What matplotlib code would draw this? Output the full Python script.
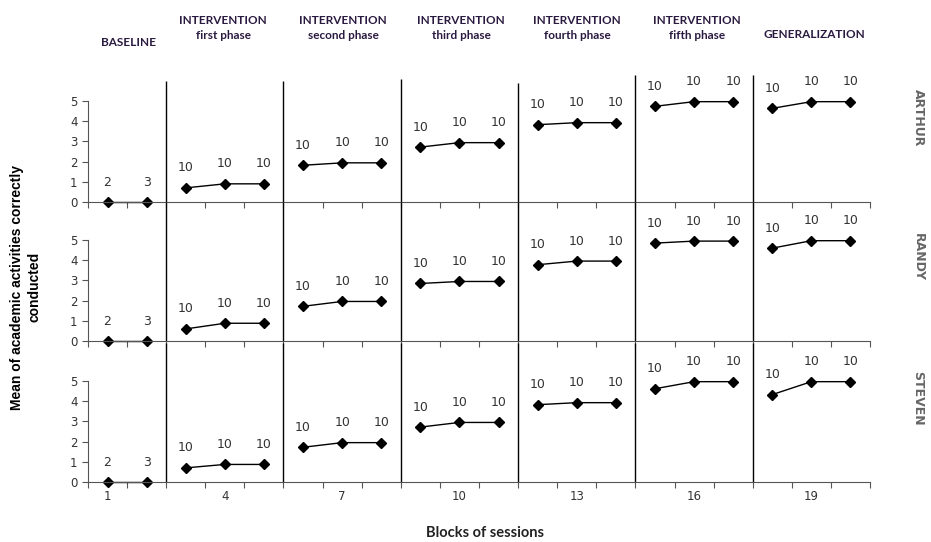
import matplotlib.pyplot as plt

# datos (bloques de sesiones 1..20)
alumnos = ['ARTHUR', 'RANDY', 'STEVEN']
fases = ['BASELINE', 'INTERVENTION\nfirst phase', 'INTERVENTION\nsecond phase',
         'INTERVENTION\nthird phase', 'INTERVENTION\nfourth phase',
         'INTERVENTION\nfifth phase', 'GENERALIZATION']
bloques_fase = [[1, 2], [3, 4, 5], [6, 7, 8], [9, 10, 11],
                [12, 13, 14], [15, 16, 17], [18, 19, 20]]
etiquetas_fase = [['2', '3']] + [['10', '10', '10']] * 6

medias = {
    'ARTHUR': [[0, 0], [0.7, 0.9, 0.9], [1.82, 1.94, 1.94], [2.72, 2.94, 2.94],
               [3.83, 3.93, 3.93], [4.74, 4.97, 4.97], [4.64, 4.97, 4.97]],
    'RANDY': [[0, 0], [0.6, 0.88, 0.88], [1.72, 1.96, 1.96], [2.85, 2.95, 2.95],
              [3.78, 3.96, 3.96], [4.85, 4.95, 4.95], [4.6, 4.97, 4.97]],
    'STEVEN': [[0, 0], [0.7, 0.87, 0.87], [1.72, 1.95, 1.95], [2.72, 2.95, 2.95],
               [3.83, 3.93, 3.93], [4.62, 4.97, 4.97], [4.33, 4.97, 4.97]],
}
cortes = [2.5, 5.5, 8.5, 11.5, 14.5, 17.5]
ticks_x = [1, 4, 7, 10, 13, 16, 19]

fig = plt.figure(figsize=(9.31, 5.42), dpi=100)
gris = '#333333'
alto = 0.257
bases = [0.6273, 0.3708, 0.1107]
topes_fila1 = [6.0, 6.0, 6.1, 5.9, 6.3, 6.3]

for i, nombre in enumerate(alumnos):
    ax = fig.add_axes([0.0945, bases[i], 0.84, alto])
    ax.set_xlim(0.5, 20.5)
    ax.set_ylim(0, 6.9)
    for bl, vals, etq in zip(bloques_fase, medias[nombre], etiquetas_fase):
        ax.plot(bl, vals, color='black', lw=1, marker='D', ms=5.5, clip_on=False)
        for x, y, t in zip(bl, vals, etq):
            ax.annotate(t, (x, y), xytext=(0, 20), textcoords='offset pixels',
                        ha='center', va='center', fontsize=9, color=gris)
    for j, c in enumerate(cortes):
        tope = topes_fila1[j] if i == 0 else 6.9
        ax.vlines(c, 0, tope, color='black', lw=1, clip_on=False)
    for s in ['top', 'right']:
        ax.spines[s].set_visible(False)
    ax.spines['left'].set_bounds(0, 5)
    ax.spines['left'].set_color('#555555')
    ax.spines['bottom'].set_color('#555555')
    ax.set_yticks(range(6))
    ax.tick_params(axis='y', labelsize=8.5, labelcolor=gris, length=4, color='#555555')
    ax.set_xticks([b + 0.5 for b in range(0, 21)])
    ax.set_xticklabels([])
    ax.tick_params(axis='x', which='major', length=4, color='#555555')
    if i == 2:
        ax.set_xticks(ticks_x, minor=True)
        ax.set_xticklabels([str(t) for t in ticks_x], minor=True)
        ax.tick_params(axis='x', which='minor', length=0, labelsize=8.5,
                       labelcolor=gris, pad=6)
    ax.patch.set_alpha(0)
    fig.text(0.986, bases[i] + 0.155, nombre, rotation=-90, ha='center', va='center',
             fontsize=9, fontweight='bold', color='#666666')

# titulos de las fases
centros = [128, 223, 343, 461, 577, 697, 814]
for f, cx in zip(fases, centros):
    if '\n' in f:
        fig.text(cx / 931, 1 - 41 / 542, f, ha='center', va='bottom', fontsize=8.5,
                 fontweight='bold', family='Lato', color='#2a1a40', linespacing=1.45)
    else:
        y = 1 - 42 / 542 if f == 'BASELINE' else 1 - 34 / 542
        fig.text(cx / 931, y, f, ha='center', va='center', fontsize=8.5,
                 fontweight='bold', family='Lato', color='#2a1a40')

fig.text(0.028, 0.47, 'Mean of academic activities correctly\nconducted', rotation=90,
         ha='center', va='center', fontsize=10, fontweight='bold',
         family='Liberation Sans', linespacing=1.3)
fig.text(485 / 931, 1 - 533 / 542, 'Blocks of sessions', ha='center', va='center',
         fontsize=10.5, fontweight='bold', family='Lato', color='#222222')

plt.savefig('out.png')
plt.close(fig)
